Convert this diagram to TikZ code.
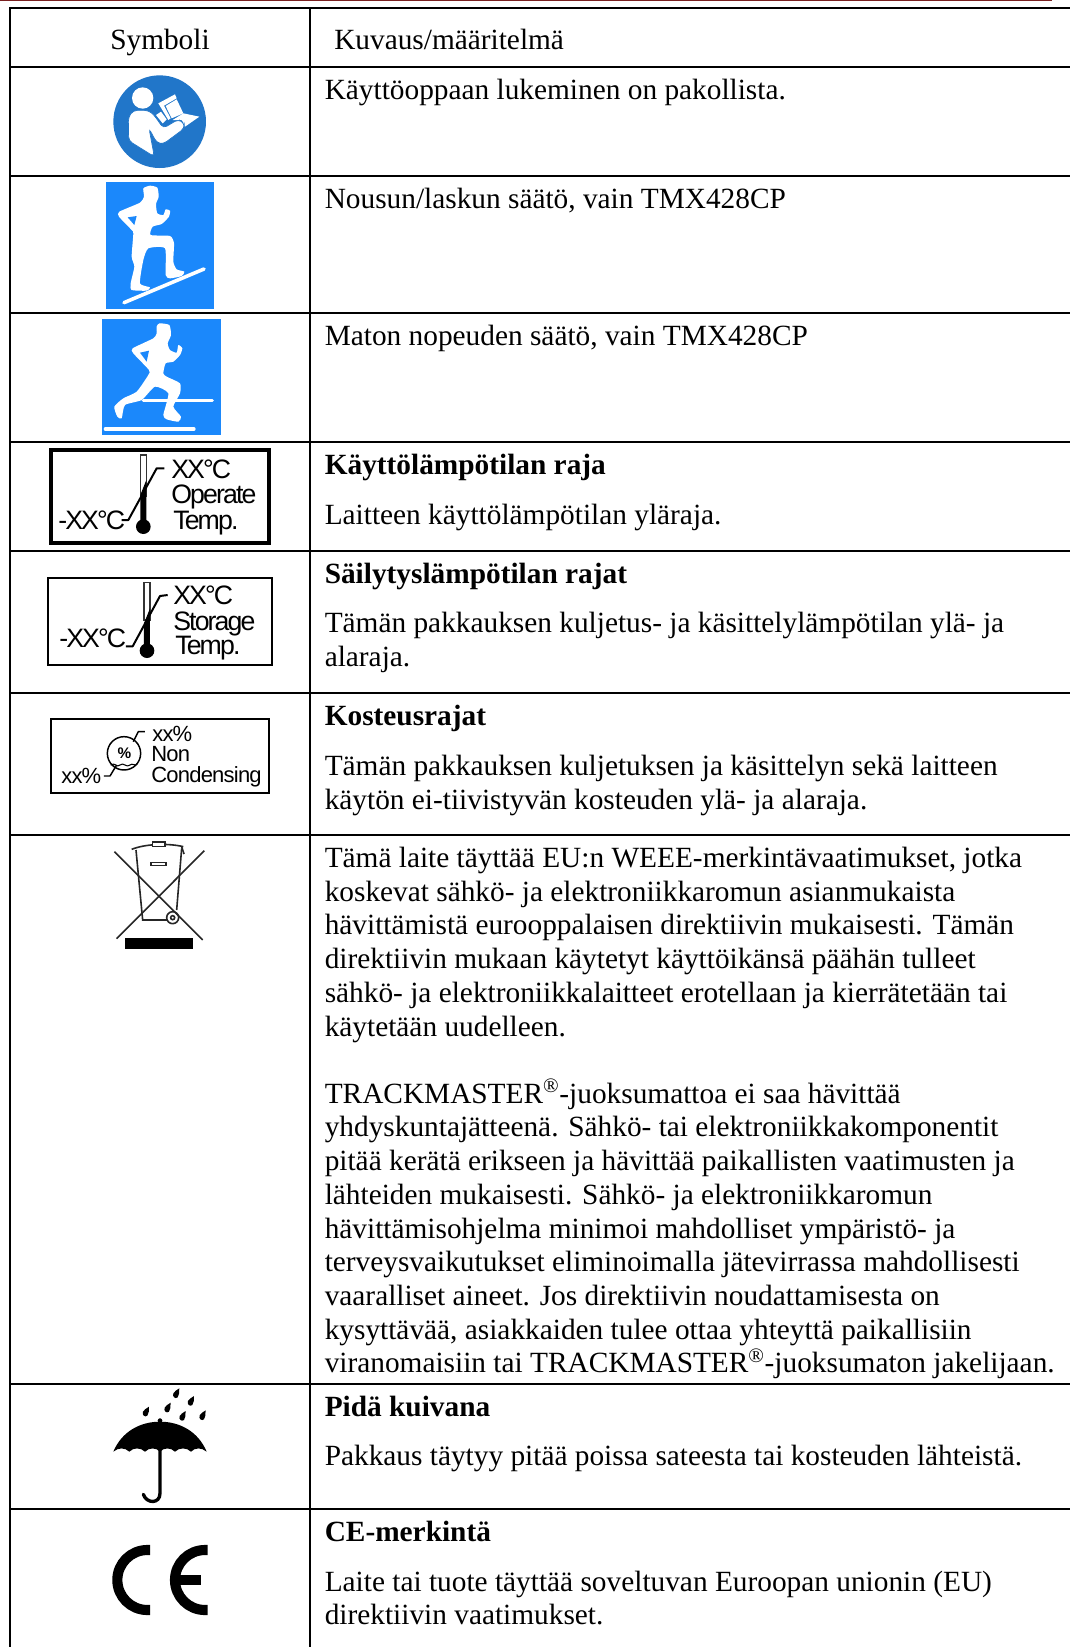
\documentclass[tikz,border=0pt]{standalone}
\usepackage{fontspec}
\setmainfont{Liberation Serif}
\newfontfamily\labfont[LetterSpace=-7]{Liberation Sans}
\newfontfamily\humfont[LetterSpace=-3.5]{Liberation Sans}
\definecolor{rulered}{HTML}{7A2020}
\definecolor{bookblue}{HTML}{2176C9}
\definecolor{runblue}{HTML}{1B88FB}
\newcommand\txtline[3]{\node[bodytext] (#1) at (324.5,#2) {#3};}
\newcommand\rmark{\textsuperscript{®}}
\tikzset{
 gridline/.style={line width=1.5pt,black},
 bodytext/.style={anchor=base west,inner sep=0pt,font=\fontsize{22}{26}\selectfont},
 headtext/.style={anchor=base,inner sep=0pt,font=\fontsize{22}{26}\selectfont},
 lab/.style={anchor=base west,inner sep=0pt,font=\fontsize{20}{20}\labfont},
 humlab/.style={anchor=base west,inner sep=0pt,font=\fontsize{16.5}{16.5}\humfont},
 frameoperate/.style={draw=black,line width=2.6pt},
 framestorage/.style={draw=black,line width=1.9pt},
 framehumid/.style={draw=black,line width=1.5pt},
 thermotube/.style={line width=0.9pt,black!80},
 thermo/.style={line width=1.5pt,black,line join=round},
 humline/.style={line width=1.1pt,black,line join=round},
 weee/.style={line width=1.2pt,black!85},
 ce/.style={line width=7.6pt,black},
}
\begin{document}
\begin{tikzpicture}[x=0.75pt,y=-0.75pt]
\useasboundingbox (0,0) rectangle (1070,1647);
\fill[white] (0,0) rectangle (1070,1647);
\draw[line width=1.1pt,rulered] (0,0.7) -- (1052,0.7);
% grid
\foreach \yy in {8,67,176,313,442,551,693,835,1384,1509}
  \draw[gridline] (10,\yy) -- (1070,\yy);
\draw[gridline] (10,7) -- (10,1647);
\draw[gridline] (310,7) -- (310,1647);
% header
\node[headtext] (hsym) at (160,49) {Symboli};
\node[bodytext] (hdesc) at (334,49) {Kuvaus/määritelmä};
% body text
\txtline{a1}{99}{Käyttöoppaan lukeminen on pakollista.}
\txtline{a2}{208}{Nousun/laskun säätö, vain TMX428CP}
\txtline{a3}{345}{Maton nopeuden säätö, vain TMX428CP}
\txtline{a4}{474}{\textbf{Käyttölämpötilan raja}}
\txtline{a5}{524}{Laitteen käyttölämpötilan yläraja.}
\txtline{a6}{583}{\textbf{Säilytyslämpötilan rajat}}
\txtline{a7}{632}{Tämän pakkauksen kuljetus- ja käsittelylämpötilan ylä- ja}
\txtline{a8}{666}{alaraja.}
\txtline{a9}{725}{\textbf{Kosteusrajat}}
\txtline{a10}{775}{Tämän pakkauksen kuljetuksen ja käsittelyn sekä laitteen}
\txtline{a11}{809}{käytön ei-tiivistyvän kosteuden ylä- ja alaraja.}
\txtline{b1}{867}{Tämä laite täyttää EU:n WEEE-merkintävaatimukset, jotka}
\txtline{b2}{901}{koskevat sähkö- ja elektroniikkaromun asianmukaista}
\txtline{b3}{934.5}{hävittämistä eurooppalaisen direktiivin mukaisesti. Tämän}
\txtline{b4}{968.5}{direktiivin mukaan käytetyt käyttöikänsä päähän tulleet}
\txtline{b5}{1002}{sähkö- ja elektroniikkalaitteet erotellaan ja kierrätetään tai}
\txtline{b6}{1036}{käytetään uudelleen.}
\txtline{c1}{1103}{TRACKMASTER\rmark-juoksumattoa ei saa hävittää}
\txtline{c2}{1136.5}{yhdyskuntajätteenä. Sähkö- tai elektroniikkakomponentit}
\txtline{c3}{1170.5}{pitää kerätä erikseen ja hävittää paikallisten vaatimusten ja}
\txtline{c4}{1204}{lähteiden mukaisesti. Sähkö- ja elektroniikkaromun}
\txtline{c5}{1238}{hävittämisohjelma minimoi mahdolliset ympäristö- ja}
\txtline{c6}{1271.5}{terveysvaikutukset eliminoimalla jätevirrassa mahdollisesti}
\txtline{c7}{1305}{vaaralliset aineet. Jos direktiivin noudattamisesta on}
\txtline{c8}{1339}{kysyttävää, asiakkaiden tulee ottaa yhteyttä paikallisiin}
\txtline{c9}{1372.5}{viranomaisiin tai TRACKMASTER\rmark-juoksumaton jakelijaan.}
\txtline{d1}{1416}{\textbf{Pidä kuivana}}
\txtline{d2}{1465.5}{Pakkaus täytyy pitää poissa sateesta tai kosteuden lähteistä.}
\txtline{e1}{1541}{\textbf{CE-merkintä}}
\txtline{e2}{1591}{Laite tai tuote täyttää soveltuvan Euroopan unionin (EU)}
\txtline{e3}{1624.5}{direktiivin vaatimukset.}
% book icon
\begin{scope}[scale=1/3]
\fill[bookblue] (479,365) circle (139);
\fill[white] (428,294) circle (32);
\fill[white] (475,310)--(525,283)--(530,295)--(492,317)--(512,355)--(505,360)--cycle;
\fill[white] (497,318)--(530,298)--(550,340)--(515,355)--cycle;
\fill[white] (550,340)--(598,350)--(555,380)--(545,360)--(518,360)--cycle;
\fill[white] (468,345)--(483,335)--(500,358)--(488,370)--cycle;
\fill[white,rounded corners=3pt,draw=bookblue,line width=0.5pt] (385,352)--(400,331)--(445,331)--(462,345)--(490,385)--(535,358)--(553,370)--(553,385)--(490,432)--(470,428)--(447,385)--(463,470)--(386,422)--cycle;
\end{scope}
% climbing icon
\begin{scope}[scale=1/3]
\fill[runblue] (318,546) rectangle (642,927);
\fill[white] plot[smooth cycle,tension=0.35] coordinates {(450,557)(472,563)(476,590)(468,612)(472,640)(490,645)(497,628)(510,632)(507,650)(485,672)(458,680)(452,705)(510,708)(522,730)(520,785)(530,808)(553,815)(545,828)(510,835)(497,825)(495,745)(445,745)(430,780)(420,850)(450,862)(440,872)(395,870)(392,850)(403,800)(395,770)(400,700)(395,690)(357,650)(358,635)(420,608)(432,590)(430,565)};
\fill[runblue] (383,652)--(410,648)--(403,675)--cycle;
\draw[white,line width=2.7pt,line cap=round] (372,908)--(612,807);
\end{scope}
% running icon
\begin{scope}[scale=1/3]
\fill[runblue] (307,957) rectangle (663,1305);
\draw[white,line width=2.5pt,line cap=round] (430,1202)--(637,1202);
\draw[white,line width=2.5pt,line cap=round] (316,1287)--(582,1287);
\fill[white] plot[smooth cycle,tension=0.35] coordinates {(478,970)(508,975)(513,1005)(503,1030)(510,1050)(530,1058)(535,1035)(547,1045)(540,1065)(520,1085)(497,1090)(490,1120)(500,1130)(540,1150)(540,1180)(520,1220)(543,1250)(535,1265)(500,1258)(490,1245)(505,1180)(465,1160)(425,1200)(375,1215)(365,1255)(352,1250)(343,1220)(370,1195)(410,1175)(445,1125)(447,1110)(400,1060)(398,1045)(460,1015)(470,1000)(470,980)};
\fill[runblue] (420,1058)--(447,1052)--(440,1085)--cycle;
\end{scope}
% operate label
\draw[frameoperate] (51,450) rectangle (269,543);
\begin{scope}[shift={(0,430)},scale=1/3]
\draw[thermotube] (421,75) rectangle (439,200);
\fill (421,195)--(439,150)--(439,290)--(421,290)--cycle;
\fill (430,290) circle (22);
\draw[thermo] (365,270)--(385,270)--(470,115)--(493,115);
\end{scope}
\node[lab] (op1) at (171,478) {XX°C};
\node[lab] (op2) at (171,503) {Operate};
\node[lab] (op3) at (173,529) {Temp.};
\node[lab] (op4) at (58,529) {-XX°C};
% storage label
\draw[framestorage] (48,578) rectangle (272,665);
\begin{scope}[shift={(0,430)},scale=1/3]
\draw[thermotube] (432,458) rectangle (450,570);
\fill (432,580)--(450,535)--(450,660)--(432,660)--cycle;
\fill (441,662) circle (22);
\draw[thermo] (378,649)--(398,649)--(480,498)--(503,495);
\end{scope}
\node[lab] (st1) at (173,604) {XX°C};
\node[lab] (st2) at (173,630) {Storage};
\node[lab] (st3) at (175,654) {Temp.};
\node[lab] (st4) at (59,647) {-XX°C};
% humidity label
\draw[framehumid] (51,719) rectangle (269,793);
\begin{scope}[shift={(0,430)},scale=1/3]
\draw[humline] (372,970) circle (50);
\draw[humline] (400,935)--(415,905)--(435,905);
\draw[humline] (312,1038)--(330,1038)--(350,1005);
\draw[humline,line width=0.8pt] (332,1005) .. controls (345,995) and (350,1015) .. (360,1005) .. controls (370,995) and (380,1015) .. (390,1005) .. controls (398,998) and (405,1010) .. (412,1002);
\end{scope}
\node[inner sep=0pt,font=\fontsize{11.5}{11.5}\humfont\bfseries] (hum0) at (124.5,753) {\%};
\node[humlab] (hu1) at (152,741) {xx\%};
\node[humlab] (hu2) at (151,761) {Non};
\node[humlab] (hu3) at (151,782) {Condensing};
\node[humlab] (hu4) at (61,783) {xx\%};
% WEEE
\begin{scope}[shift={(80,830)},scale=1/3]
\draw[weee] (168,60)--(188,270)--(262,270);
\draw[weee] (305,55)--(290,240);
\draw[weee] (155,58) .. controls (200,40) and (270,40) .. (310,50);
\draw[weee,fill=white] (218,36) rectangle (255,50);
\draw[weee] (213,98) rectangle (258,107);
\draw[weee] (278,263) circle (18);
\draw[weee] (278,263) circle (6);
\draw[weee] (305,50)--(312,72);
\draw[weee] (103,65)--(368,330);
\draw[weee] (373,62)--(110,326);
\fill[black] (135,323) rectangle (340,357);
\end{scope}
% umbrella
\begin{scope}[shift={(80,1370)},scale=1/3]
\fill[black] (100,245) .. controls (125,185) and (180,155) .. (240,155) .. controls (300,155) and (355,185) .. (380,245)
 .. controls (365,232) and (345,232) .. (333,245) .. controls (320,232) and (298,232) .. (285,245) .. controls (272,232) and (252,232) .. (240,245) .. controls (228,232) and (208,232) .. (195,245) .. controls (182,232) and (160,232) .. (148,245) .. controls (135,232) and (115,232) .. cycle;
\fill[black] (240,152) circle (7);
\draw[black,line width=2.5pt,line cap=round] (240,150)--(240,370) .. controls (240,402) and (200,402) .. (190,373);
\foreach \dx/\dy in {288/72,332/95,262/115,197/127,307/140,367/138}
  \fill[black,shift={(\dx,\dy)}] (10,-17) .. controls (8,-5) and (12,2) .. (5,10) .. controls (-2,16) and (-12,8) .. (-8,-2) .. controls (-6,-7) and (2,-12) .. cycle;
\end{scope}
% CE
\begin{scope}[shift={(80,1370)},scale=1/3]
\draw[ce] (210,540)--(202,540) arc (270:90:90)--(210,720);
\draw[ce] (383,540)--(375,540) arc (270:90:90)--(383,720);
\draw[ce] (285,630)--(362,630);
\end{scope}
\end{tikzpicture}
\end{document}
